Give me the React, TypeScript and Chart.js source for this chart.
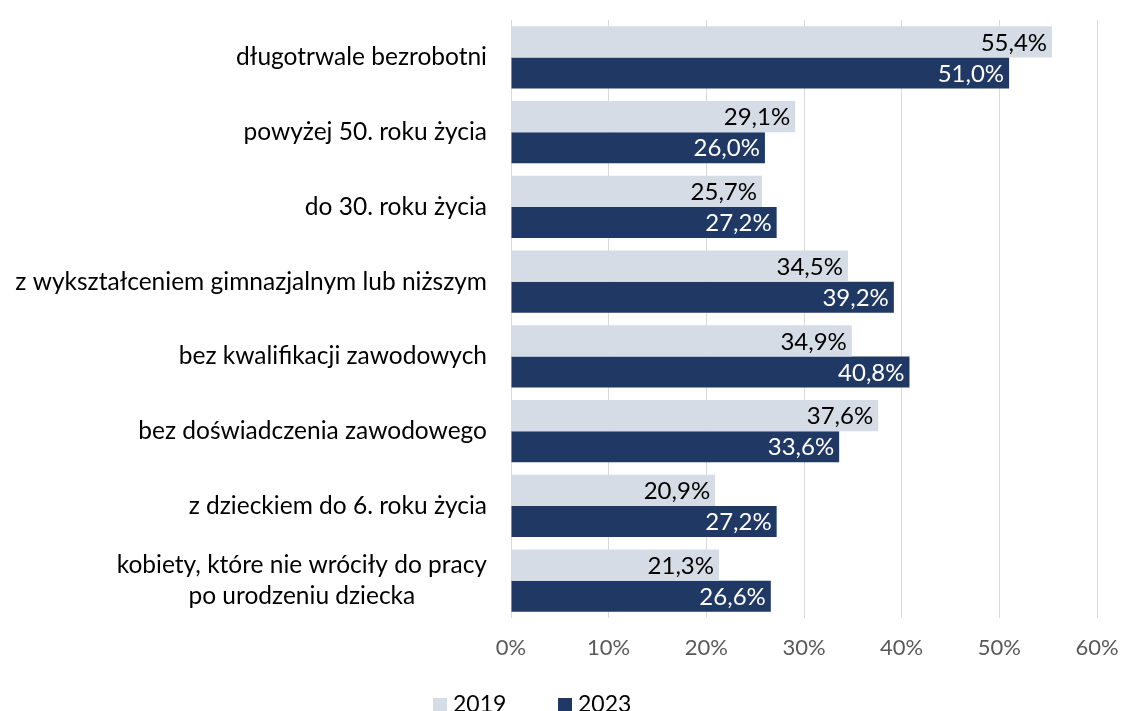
import React, { useEffect, useRef } from "react";
import { Chart, registerables } from "chart.js";

Chart.register(...registerables);

const categories: (string | string[])[] = [
  "długotrwale bezrobotni",
  "powyżej 50. roku życia",
  "do 30. roku życia",
  "z wykształceniem gimnazjalnym lub niższym",
  "bez kwalifikacji zawodowych",
  "bez doświadczenia zawodowego",
  "z dzieckiem do 6. roku życia",
  ["kobiety, które nie wróciły do pracy", "po urodzeniu dziecka"],
];
const values2019 = [55.4, 29.1, 25.7, 34.5, 34.9, 37.6, 20.9, 21.3];
const values2023 = [51.0, 26.0, 27.2, 39.2, 40.8, 33.6, 27.2, 26.6];
const seriesNames = ["2019", "2023"];
const colors = ["#D6DCE5", "#203864"];
const labelColors = ["#000000", "#FFFFFF"];

const FONT = "Lato, 'Open Sans', sans-serif";

const fmt = (v: number) => v.toFixed(1).replace(".", ",") + "%";

export default function App() {
  const ref = useRef<HTMLCanvasElement | null>(null);

  useEffect(() => {
    document.body.style.margin = "0";
    const canvas = ref.current;
    if (!canvas) return;

    const labelsPlugin = {
      id: "customLabels",
      afterDatasetsDraw(chart: any) {
        const ctx = chart.ctx;
        ctx.save();
        ctx.font = `24px ${FONT}`;
        ctx.textAlign = "right";
        ctx.textBaseline = "middle";
        chart.data.datasets.forEach((ds: any, di: number) => {
          const meta = chart.getDatasetMeta(di);
          meta.data.forEach((el: any, i: number) => {
            ctx.fillStyle = labelColors[di];
            ctx.fillText(fmt(ds.data[i]), el.x - 5, el.y + 1);
          });
        });
        ctx.restore();
      },
      afterDraw(chart: any) {
        const ctx = chart.ctx;
        const yScale = chart.scales.y;
        ctx.save();
        // category labels
        ctx.font = `24.5px ${FONT}`;
        ctx.fillStyle = "#000000";
        ctx.textBaseline = "middle";
        ctx.textAlign = "center";
        const right = chart.chartArea.left - 24;
        categories.forEach((c, i) => {
          const lines = Array.isArray(c) ? c : [c];
          const w = Math.max(...lines.map((l) => ctx.measureText(l).width));
          const cx = right - w / 2;
          const yc = yScale.getPixelForTick(i);
          const lh = 31;
          lines.forEach((l, li) => {
            const y = yc + (li - (lines.length - 1) / 2) * lh;
            ctx.fillText(l, cx, y);
          });
        });
        // legend
        ctx.font = `23px ${FONT}`;
        ctx.textAlign = "left";
        const lx = [433, 558];
        const ly = 705;
        seriesNames.forEach((n, i) => {
          ctx.fillStyle = colors[i];
          ctx.fillRect(lx[i], ly - 7, 14, 15);
          ctx.fillStyle = "#000000";
          ctx.fillText(n, lx[i] + 20, ly);
        });
        ctx.restore();
      },
    };

    const chart = new Chart(canvas, {
      type: "bar",
      data: {
        labels: categories as any,
        datasets: [
          {
            label: seriesNames[0],
            data: values2019,
            backgroundColor: colors[0],
            barPercentage: 1,
            categoryPercentage: 0.83,
          },
          {
            label: seriesNames[1],
            data: values2023,
            backgroundColor: colors[1],
            barPercentage: 1,
            categoryPercentage: 0.83,
          },
        ],
      },
      options: {
        indexAxis: "y",
        responsive: false,
        animation: false,
        layout: { padding: { top: 20, bottom: 0, left: 0, right: 24 } },
        plugins: {
          legend: { display: false },
          tooltip: { enabled: false },
        },
        scales: {
          x: {
            min: 0,
            max: 60,
            ticks: {
              stepSize: 10,
              callback: (v: any) => v + "%",
              color: "#595959",
              font: { family: FONT, size: 22 },
              padding: 17,
            },
            grid: { color: "#D9D9D9", drawTicks: false, lineWidth: 1 },
            border: { display: false },
            afterFit: (s: any) => {
              s.height = 93;
              s.paddingLeft = 0;
              s.paddingRight = 0;
            },
          },
          y: {
            ticks: { display: false },
            grid: { display: false },
            border: { display: false },
            afterFit: (s: any) => {
              s.width = 511;
            },
          },
        },
      },
      plugins: [labelsPlugin],
    });

    return () => chart.destroy();
  }, []);

  return (
    <div style={{ width: 1121, height: 711 }}>
      <canvas ref={ref} width={1121} height={711} />
    </div>
  );
}
